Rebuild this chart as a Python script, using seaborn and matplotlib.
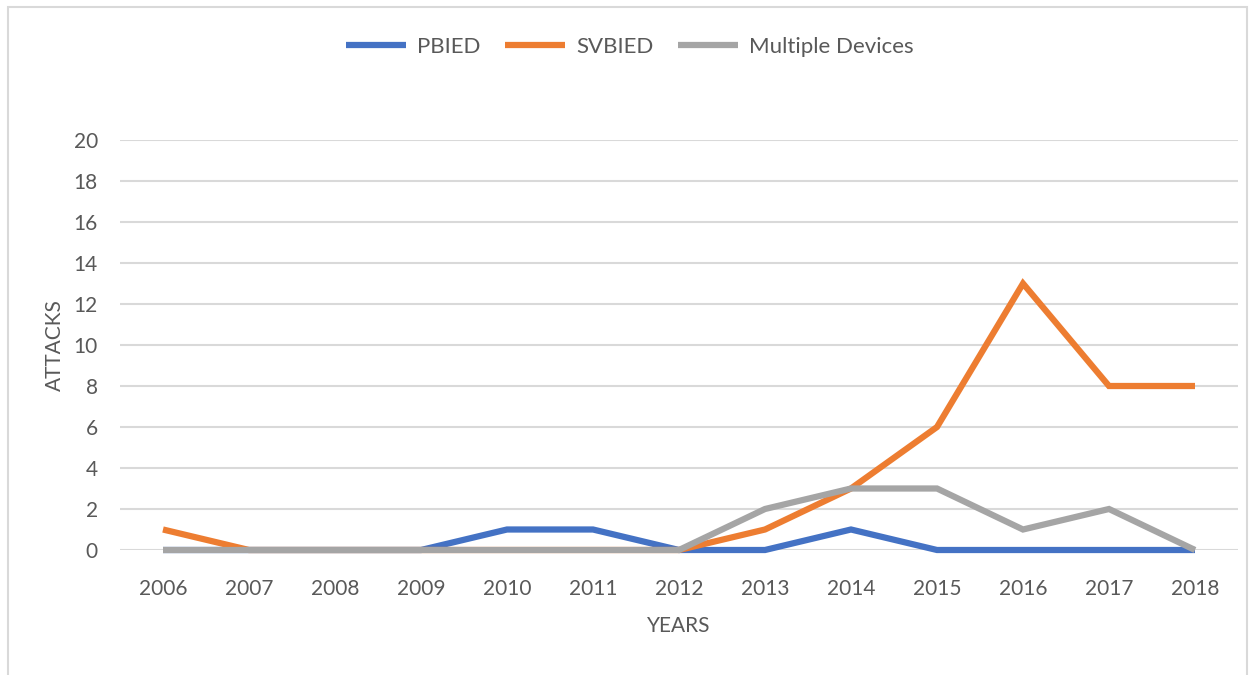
import pandas as pd
import numpy as np
import matplotlib
matplotlib.use("Agg")
import matplotlib.pyplot as plt
import seaborn as sns
from matplotlib.patches import Rectangle

# chart data
years = [2006, 2007, 2008, 2009, 2010, 2011, 2012, 2013, 2014, 2015, 2016, 2017, 2018]
pbied = [0, 0, 0, 0, 1, 1, 0, 0, 1, 0, 0, 0, 0]
svbied = [1, 0, 0, 0, 0, 0, 0, 1, 3, 6, 13, 8, 8]
multiple = [0, 0, 0, 0, 0, 0, 0, 2, 3, 3, 1, 2, 0]
series_names = ["PBIED", "SVBIED", "Multiple Devices"]
colors = ["#4472C4", "#ED7D31", "#A5A5A5"]

df = pd.DataFrame({
    "year": [str(y) for y in years] * 3,
    "attacks": pbied + svbied + multiple,
    "series": [s for s in series_names for _ in years],
})

sns.set_style("white")
plt.rcParams["font.family"] = ["Lato", "DejaVu Sans"]
text_color = "#595959"
fs = 15

fig = plt.figure(figsize=(12.49, 6.75), dpi=100)
ax = fig.add_axes([120 / 1249, 1 - 550 / 675, 1118 / 1249, 410 / 675])

sns.lineplot(data=df, x="year", y="attacks", hue="series", hue_order=series_names,
             palette=colors, linewidth=4.5, ax=ax, legend=False, clip_on=False,
             solid_capstyle="butt", solid_joinstyle="miter")

ax.set_ylim(0, 20)
ax.set_xlim(-0.5, len(years) - 0.5)
ax.set_yticks(range(0, 21, 2))
ax.yaxis.grid(True, color="#D9D9D9", linewidth=1.5)
ax.set_axisbelow(True)
for s in ax.spines.values():
    s.set_visible(False)
ax.tick_params(axis="both", length=0, labelsize=fs, colors=text_color)
ax.tick_params(axis="x", pad=21)
ax.tick_params(axis="y", pad=16)
ax.set_xlabel("YEARS", fontsize=fs, color=text_color, labelpad=12)
ax.set_ylabel("ATTACKS", fontsize=fs, color=text_color, labelpad=6)

handles = [plt.Line2D([], [], color=c, linewidth=4.5, solid_capstyle="butt") for c in colors]
fig.legend(handles, series_names, loc="center", bbox_to_anchor=(630 / 1249, 1 - 47 / 675),
           ncol=3, frameon=False, fontsize=16, labelcolor=text_color,
           handlelength=2.7, columnspacing=1.1, handletextpad=0.5)

fig.patches.append(Rectangle((8 / 1249, -0.05), 1239 / 1249, 1.05 - 7 / 675,
                             transform=fig.transFigure, fill=False,
                             edgecolor="#D9D9D9", linewidth=1.5))

fig.savefig("out.png", dpi=100)
